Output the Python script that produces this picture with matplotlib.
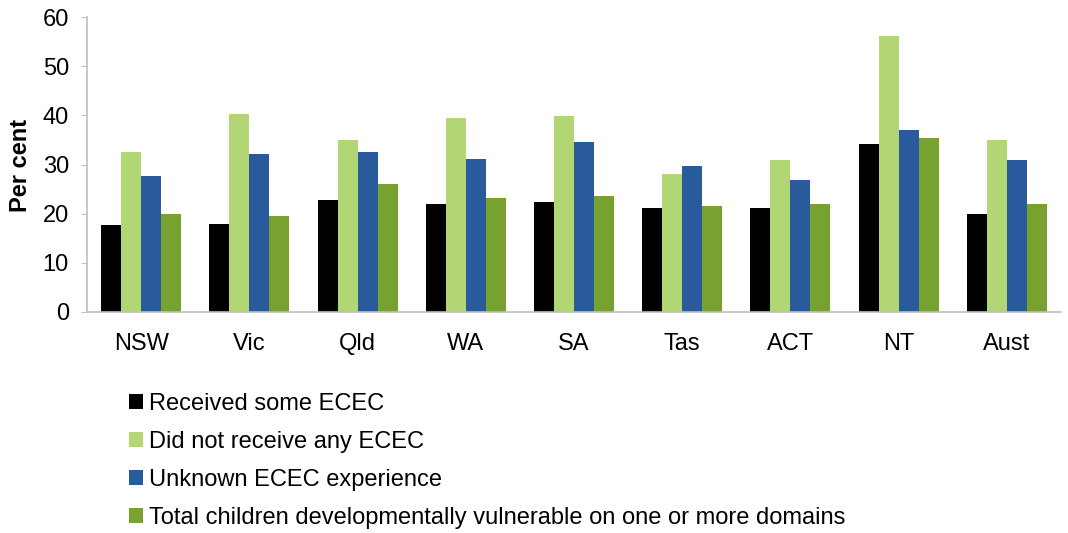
import numpy as np
import matplotlib.pyplot as plt
from matplotlib.patches import Patch

plt.rcParams['font.family'] = ['Liberation Sans', 'DejaVu Sans']

# data
states = ['NSW', 'Vic', 'Qld', 'WA', 'SA', 'Tas', 'ACT', 'NT', 'Aust']
received = [17.6, 17.9, 22.8, 22.0, 22.4, 21.2, 21.2, 34.2, 19.9]
not_received = [32.5, 40.2, 34.9, 39.5, 39.9, 28.1, 30.9, 56.1, 35.0]
unknown = [27.7, 32.1, 32.5, 31.2, 34.5, 29.7, 26.8, 37.0, 30.9]
total = [19.9, 19.5, 26.0, 23.2, 23.6, 21.6, 22.0, 35.4, 22.0]

labels = ['Received some ECEC',
          'Did not receive any ECEC',
          'Unknown ECEC experience',
          'Total children developmentally vulnerable on one or more domains']
colors = ['#000000', '#B3D675', '#285A9C', '#77A22F']

fig = plt.figure(figsize=(10.68, 5.33), dpi=100)
ax = fig.add_axes([87 / 1068, 1 - 312 / 533, 974 / 1068, 295 / 533])

x = np.arange(len(states))
w = 0.185
series = [received, not_received, unknown, total]
for i, (vals, c) in enumerate(zip(series, colors)):
    ax.bar(x + (i - 1.5) * w, vals, width=w, color=c, label=labels[i])

ax.set_xlim(-0.5, len(states) - 0.5)
ax.set_ylim(0, 60)
ax.set_yticks(range(0, 61, 10))
ax.set_xticks(x)
ax.set_xticklabels(states)
ax.tick_params(axis='y', labelsize=17, length=4, color='#BFBFBF', pad=9)
ax.tick_params(axis='x', labelsize=17, length=0, pad=15)
for s in ['top', 'right']:
    ax.spines[s].set_visible(False)
for s in ['left', 'bottom']:
    ax.spines[s].set_color('#BFBFBF')
    ax.spines[s].set_linewidth(1.2)

fig.text(21 / 1068, 1 - 165 / 533, 'Per cent', rotation=90, fontsize=17,
         fontweight='bold', ha='center', va='center')

handles = [Patch(facecolor=c) for c in colors]
fig.legend(handles, labels, loc='upper left', bbox_to_anchor=(129 / 1068, 1 - 393 / 533),
           frameon=False, fontsize=17, handlelength=0.6, handleheight=0.6,
           handletextpad=0.25, labelspacing=0.68, borderaxespad=0, borderpad=0)

fig.savefig('out.png', dpi=100)
